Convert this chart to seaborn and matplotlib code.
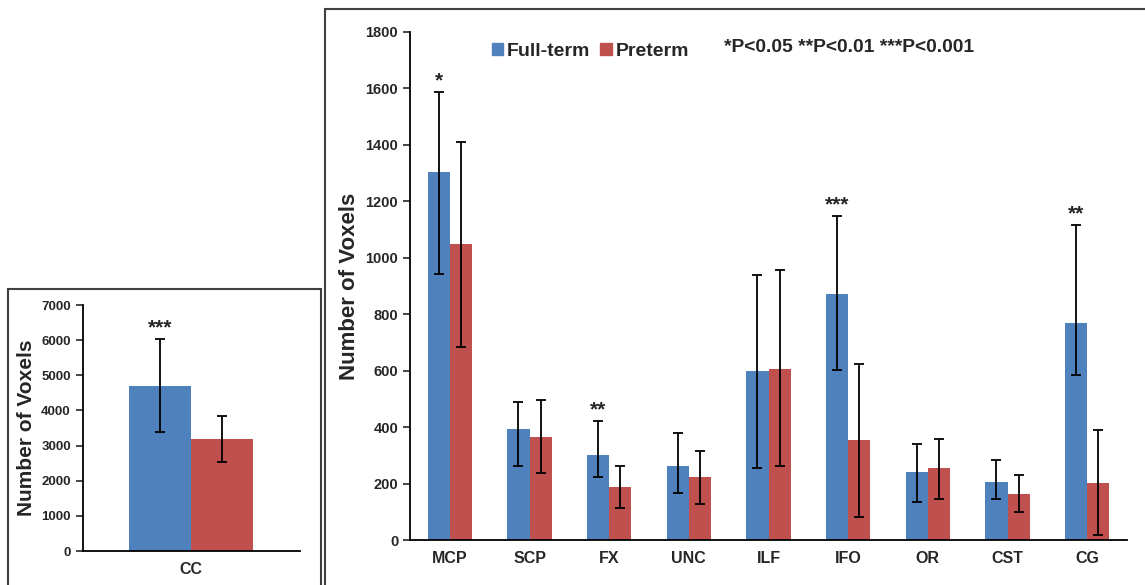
import numpy as np
import pandas as pd
import matplotlib
matplotlib.use("Agg")
import matplotlib.pyplot as plt
from matplotlib.patches import Rectangle
import seaborn as sns

# --- data ---
tracts = ["MCP", "SCP", "FX", "UNC", "ILF", "IFO", "OR", "CST", "CG"]
full_mean = [1304, 392, 301, 262, 599, 870, 242, 206, 770]
full_lo = [943, 261, 225, 166, 254, 602, 135, 144, 585]
full_hi = [1589, 488, 422, 378, 938, 1148, 339, 284, 1116]
pre_mean = [1049, 365, 188, 223, 606, 354, 255, 164, 203]
pre_lo = [684, 237, 112, 127, 261, 80, 146, 99, 18]
pre_hi = [1412, 496, 261, 316, 958, 622, 359, 230, 391]
sig = ["*", "", "**", "", "", "***", "", "", "**"]

cc_label = ["CC"]
cc_full = [4693]
cc_full_lo = [3392]
cc_full_hi = [6042]
cc_pre = [3183]
cc_pre_lo = [2537]
cc_pre_hi = [3829]
cc_sig = ["***"]

groups = ["Full-term", "Preterm"]
colors = {"Full-term": "#4F81BD", "Preterm": "#C0504D"}

sns.set_style("white")
plt.rcParams["font.family"] = ["Liberation Sans", "DejaVu Sans"]
plt.rcParams["font.weight"] = "bold"


def long_table(cats, a, b):
    return pd.DataFrame({
        "tract": list(cats) * 2,
        "group": ["Full-term"] * len(cats) + ["Preterm"] * len(cats),
        "value": list(a) + list(b),
    })


def draw_panel(ax, cats, fm, flo, fhi, pm, plo, phi, stars, ymax, ystep, width,
               ytick_size, ylabel_size):
    df = long_table(cats, fm, pm)
    sns.barplot(data=df, x="tract", y="value", hue="group", hue_order=groups,
                palette=colors, errorbar=None, width=width, ax=ax,
                saturation=1, legend=False, linewidth=0)
    for cont, m, lo, hi in zip(ax.containers, [fm, pm], [flo, plo], [fhi, phi]):
        xs = [b.get_x() + b.get_width() / 2 for b in cont]
        m = np.array(m)
        yerr = [m - np.array(lo), np.array(hi) - m]
        ax.errorbar(xs, m, yerr=yerr, fmt="none", ecolor="black",
                    elinewidth=1.3, capsize=3.5, capthick=1.3)
    xs_full = [b.get_x() + b.get_width() / 2 for b in ax.containers[0]]
    for x, top, s in zip(xs_full, fhi, stars):
        if s:
            ax.annotate(s, (x, top), xytext=(0, 1), textcoords="offset points",
                        ha="center", va="bottom", fontsize=15, fontweight="bold")
    n = len(cats)
    ax.set_xlim(-0.5, n - 0.5)
    ax.set_ylim(0, ymax)
    ax.set_yticks(np.arange(0, ymax + 1, ystep))
    ax.set_xticks(np.arange(-0.5, n, 1.0), minor=True)
    ax.tick_params(axis="x", which="major", length=0, labelsize=11.5, pad=8)
    ax.tick_params(axis="x", which="minor", length=5, width=1.2, direction="out")
    ax.tick_params(axis="y", length=5, width=1.2, direction="out",
                   labelsize=ytick_size, left=True)
    for lab in ax.get_xticklabels() + ax.get_yticklabels():
        lab.set_fontweight("bold")
    sns.despine(ax=ax)
    for sp in ["left", "bottom"]:
        ax.spines[sp].set_linewidth(1.3)
        ax.spines[sp].set_color("black")
    ax.set_xlabel("")
    ax.set_ylabel("Number of Voxels", fontsize=ylabel_size, fontweight="bold",
                  labelpad=4)


fig = plt.figure(figsize=(11.45, 5.85), dpi=100)

ax_r = fig.add_axes([0.3581, 0.0769, 0.6262, 0.8684])
draw_panel(ax_r, tracts, full_mean, full_lo, full_hi, pre_mean, pre_lo, pre_hi,
           sig, 1800, 200, 0.56, 10.5, 16)

ax_l = fig.add_axes([0.0722, 0.0581, 0.1898, 0.4205])
draw_panel(ax_l, cc_label, cc_full, cc_full_lo, cc_full_hi, cc_pre, cc_pre_lo,
           cc_pre_hi, cc_sig, 7000, 1000, 0.57, 9.5, 15)

# legend
handles = [Rectangle((0, 0), 1, 1, color=colors[g]) for g in groups]
fig.legend(handles, groups, loc="upper left", bbox_to_anchor=(0.414, 0.957),
           ncol=2, frameon=False, handlelength=0.6, handleheight=0.6,
           handletextpad=0.2, columnspacing=0.5,
           prop={"size": 14, "weight": "bold"})
fig.text(0.632, 0.918, "*P<0.05 **P<0.01 ***P<0.001", fontsize=13.9,
         fontweight="bold", va="center", ha="left")

# panel frames
fig.add_artist(Rectangle((0.007, -0.02), 0.2733, 0.526, transform=fig.transFigure,
                         fill=False, edgecolor="#404040", linewidth=1.5))
fig.add_artist(Rectangle((0.2838, -0.02), 0.73, 1.0046, transform=fig.transFigure,
                         fill=False, edgecolor="#404040", linewidth=1.5))

fig.savefig("out.png", dpi=100)
